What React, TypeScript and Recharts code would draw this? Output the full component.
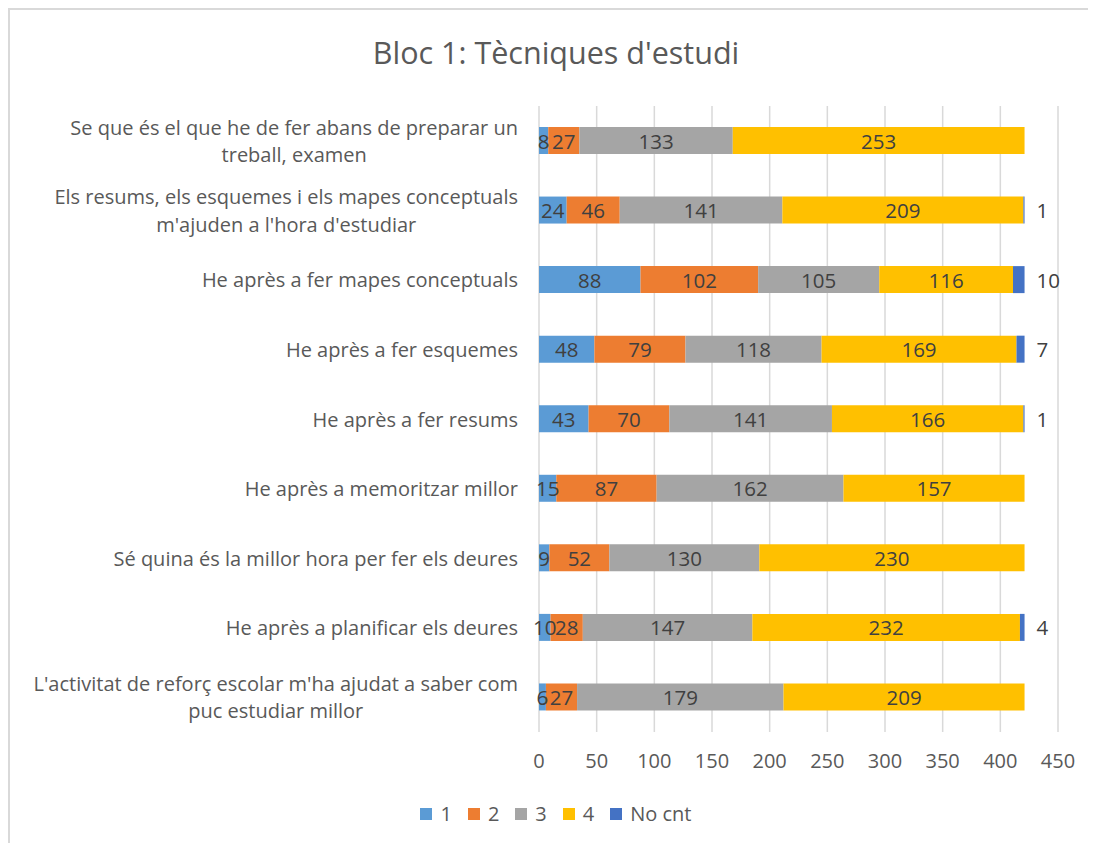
import React from "react";
import { BarChart, Bar, XAxis, YAxis, CartesianGrid, LabelList } from "recharts";

const categories = [
  "Se que és el que he de fer abans de preparar un\ntreball, examen",
  "Els resums, els esquemes i els mapes conceptuals\nm'ajuden a l'hora d'estudiar",
  "He après a fer mapes conceptuals",
  "He après a fer esquemes",
  "He après a fer resums",
  "He après a memoritzar millor",
  "Sé quina és la millor hora per fer els deures",
  "He après a planificar els deures",
  "L'activitat de reforç escolar m'ha ajudat a saber com\npuc estudiar millor",
];
const series1 = [8, 24, 88, 48, 43, 15, 9, 10, 6];
const series2 = [27, 46, 102, 79, 70, 87, 52, 28, 27];
const series3 = [133, 141, 105, 118, 141, 162, 130, 147, 179];
const series4 = [253, 209, 116, 169, 166, 157, 230, 232, 209];
const seriesNoCnt = [0, 1, 10, 7, 1, 0, 0, 4, 0];
const seriesNames = ["1", "2", "3", "4", "No cnt"];
const seriesKeys = ["s1", "s2", "s3", "s4", "s5"];
const colors = ["#5b9bd5", "#ed7d31", "#a5a5a5", "#ffc000", "#4472c4"];
const xTicks = [0, 50, 100, 150, 200, 250, 300, 350, 400, 450];

const data = categories.map((name, i) => ({
  name,
  s1: series1[i],
  s2: series2[i],
  s3: series3[i],
  s4: series4[i],
  s5: seriesNoCnt[i],
}));

const FONT = "'Open Sans', sans-serif";
const AXIS_FS = 20;
const LABEL_FS = 20.5;

let ctx: CanvasRenderingContext2D | null = null;
function measure(text: string, size: number) {
  if (!ctx) {
    const c = document.createElement("canvas");
    ctx = c.getContext("2d");
  }
  if (!ctx) return text.length * size * 0.5;
  ctx.font = `${size}px 'Open Sans'`;
  return ctx.measureText(text).width;
}

const YTick = (props: any) => {
  const { x, y, payload } = props;
  const lines = String(payload.value).split("\n");
  const w = Math.max(...lines.map((l) => measure(l, AXIS_FS)));
  const right = x - 13;
  const cx = right - w / 2;
  const lh = 27.5;
  const y0 = y - ((lines.length - 1) * lh) / 2;
  return (
    <g>
      {lines.map((l, i) => (
        <text
          key={i}
          x={lines.length > 1 ? cx : right}
          y={y0 + i * lh}
          textAnchor={lines.length > 1 ? "middle" : "end"}
          dominantBaseline="central"
          fill="#595959"
          fontSize={AXIS_FS}
          fontFamily={FONT}
        >
          {l}
        </text>
      ))}
    </g>
  );
};

const XTick = (props: any) => {
  const { x, y, payload } = props;
  return (
    <text x={x} y={y + 20} textAnchor="middle" dominantBaseline="central" fill="#595959" fontSize={AXIS_FS} fontFamily={FONT}>
      {payload.value}
    </text>
  );
};

const centerLabel = (props: any) => {
  const { x, y, width, height, value } = props;
  if (!value) return null;
  return (
    <text x={x + width / 2} y={y + height / 2} textAnchor="middle" dominantBaseline="central" fill="#404040" fontSize={LABEL_FS} fontFamily={FONT}>
      {value}
    </text>
  );
};

const rightLabel = (props: any) => {
  const { x, y, width, height, value } = props;
  if (!value) return null;
  return (
    <text x={x + width + 12} y={y + height / 2} textAnchor="start" dominantBaseline="central" fill="#404040" fontSize={LABEL_FS} fontFamily={FONT}>
      {value}
    </text>
  );
};

export default function App() {
  return (
    <div>
      <style>{`html,body{overflow:hidden;}`}</style>
      <div
        style={{
          position: "relative",
          width: 1096,
          height: 843,
          borderTop: "2px solid #d9d9d9",
          borderLeft: "2px solid #d9d9d9",
          boxSizing: "border-box",
          background: "#fff",
        }}
      >
        <div
          style={{
            position: "absolute",
            left: 0,
            width: 1092,
            top: 21,
            textAlign: "center",
            fontFamily: FONT,
            fontSize: 30.5,
            color: "#595959",
          }}
        >
          Bloc 1: Tècniques d'estudi
        </div>
        <BarChart
          width={1086}
          height={833}
          data={data}
          layout="vertical"
          margin={{ top: 96, right: 38, bottom: 0, left: 0 }}
          barCategoryGap={0}
        >
          <CartesianGrid horizontal={false} stroke="#d9d9d9" strokeWidth={1.5} />
          <XAxis
            type="number"
            domain={[0, 450]}
            ticks={xTicks}
            axisLine={false}
            tickLine={false}
            tick={<XTick />}
            height={111}
            interval={0}
          />
          <YAxis
            type="category"
            dataKey="name"
            width={529}
            axisLine={false}
            tickLine={false}
            tick={<YTick />}
            interval={0}
          />
          {seriesKeys.map((k, i) => (
            <Bar key={k} dataKey={k} name={seriesNames[i]} stackId="a" fill={colors[i]} barSize={27} isAnimationActive={false}>
              <LabelList dataKey={k} content={i === 4 ? rightLabel : centerLabel} />
            </Bar>
          ))}
        </BarChart>
        <div
          style={{
            position: "absolute",
            left: 0,
            width: 1092,
            top: 790,
            display: "flex",
            justifyContent: "center",
            fontFamily: FONT,
            fontSize: AXIS_FS,
            color: "#595959",
          }}
        >
          {seriesNames.map((n, i) => (
            <div key={n} style={{ display: "flex", alignItems: "center", margin: "0 8px" }}>
              <span style={{ display: "inline-block", width: 12, height: 12, background: colors[i], marginRight: 8 }} />
              <span>{n}</span>
            </div>
          ))}
        </div>
      </div>
    </div>
  );
}
